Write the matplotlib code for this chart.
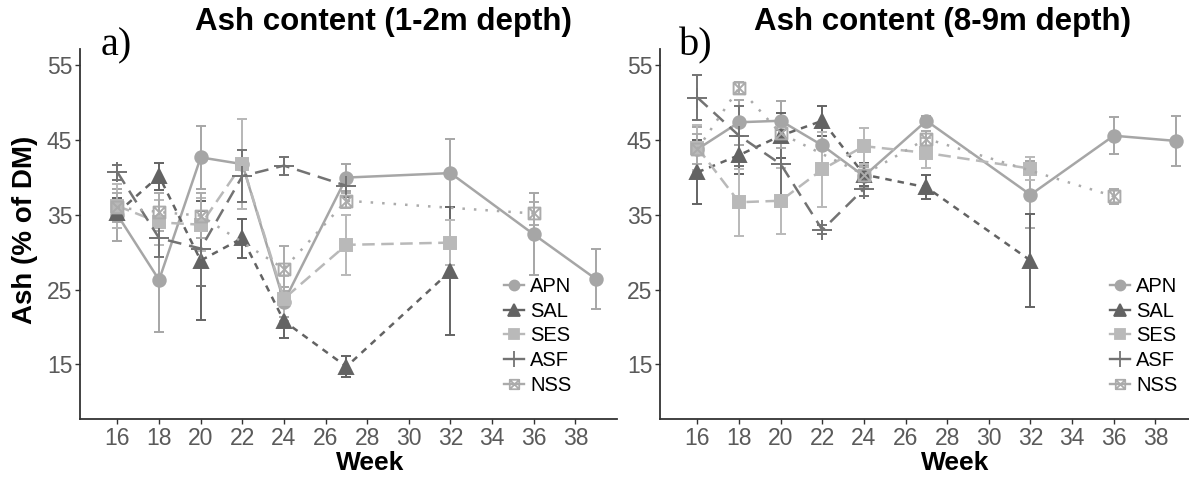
import numpy as np
import matplotlib.pyplot as plt
from matplotlib.path import Path
from matplotlib.lines import Line2D

# ---- data ------------------------------------------------------------------
# a) 1-2 m depth
weeks_a_apn = [16, 18, 20, 22, 24, 27, 32, 36, 39]
apn_a = [35.0, 26.3, 42.7, 41.8, 23.4, 40.0, 40.6, 32.4, 26.4]
apn_a_err = [3.5, 7.0, 4.2, 6.0, 2.0, 1.8, 4.6, 5.5, 4.0]

weeks_a_sal = [16, 18, 20, 22, 24, 27, 32]
sal_a = [35.3, 40.2, 28.9, 31.9, 20.8, 14.7, 27.5]
sal_a_err = [2.0, 1.8, 8.0, 2.6, 2.3, 1.4, 8.5]

weeks_a_ses = [16, 18, 20, 22, 24, 27, 32]
ses_a = [36.2, 34.0, 33.7, 41.8, 23.8, 31.0, 31.3]
ses_a_err = [3.0, 3.0, 3.5, 6.0, 3.0, 4.0, 3.0]

weeks_a_asf = [16, 18, 20, 22, 24, 27]
asf_a = [40.7, 31.9, 30.5, 40.2, 41.6, 38.9]
asf_a_err = [1.0, 2.5, 5.0, 3.5, 1.2, 1.5]

weeks_a_nss = [16, 18, 20, 24, 27, 36]
nss_a = [36.0, 35.4, 34.9, 27.8, 36.9, 35.2]
nss_a_err = [2.0, 2.5, 3.0, 3.0, 1.0, 1.5]

# b) 8-9 m depth
weeks_b_apn = [16, 18, 20, 22, 24, 27, 32, 36, 39]
apn_b = [43.8, 47.4, 47.6, 44.3, 40.2, 47.6, 37.7, 45.6, 44.9]
apn_b_err = [3.0, 3.0, 2.7, 3.0, 1.5, 0.6, 4.5, 2.5, 3.3]

weeks_b_sal = [16, 18, 20, 22, 24, 27, 32]
sal_b = [40.7, 43.0, 45.6, 47.6, 40.4, 38.7, 28.9]
sal_b_err = [4.3, 2.5, 3.0, 2.0, 1.5, 1.6, 6.2]

weeks_b_ses = [16, 18, 20, 22, 24, 27, 32]
ses_b = [44.0, 36.7, 36.9, 41.1, 44.2, 43.3, 41.2]
ses_b_err = [3.0, 4.5, 4.4, 5.0, 2.4, 2.0, 1.5]

weeks_b_asf = [16, 18, 20, 22, 24]
asf_b = [50.7, 45.6, 41.8, 33.0, 38.5]
asf_b_err = [3.0, 4.0, 4.5, 0.6, 1.0]

weeks_b_nss = [16, 18, 20, 24, 27, 36]
nss_b = [43.8, 52.0, 45.9, 40.4, 45.2, 37.5]
nss_b_err = [2.0, 0.8, 2.0, 1.0, 1.0, 1.0]

x_ticks = list(range(16, 40, 2))
y_ticks = [15, 25, 35, 45, 55]
series_names = ['APN', 'SAL', 'SES', 'ASF', 'NSS']

# ---- styles ----------------------------------------------------------------
# open square with a cross inside, for NSS
box_x = Path([(-1, -1), (1, -1), (1, 1), (-1, 1), (-1, -1),
              (-1, -1), (1, 1), (-1, 1), (1, -1)],
             [Path.MOVETO, Path.LINETO, Path.LINETO, Path.LINETO, Path.CLOSEPOLY,
              Path.MOVETO, Path.LINETO, Path.MOVETO, Path.LINETO])

STYLES = {
    'APN': dict(color='#a6a6a6', marker='o', ms=9, ls='-'),
    'SAL': dict(color='#636363', marker='^', ms=10, ls=(0, (2.6, 2.4))),
    'SES': dict(color='#b9b9b9', marker='s', ms=8.5, ls=(0, (5, 2.6))),
    'ASF': dict(color='#737373', marker='+', ms=14, ls=(0, (5.5, 3.2))),
    'NSS': dict(color='#ababab', marker=box_x, ms=8.5, ls=(0, (1.0, 3.6))),
}

plt.rcParams['font.family'] = ['Liberation Sans', 'DejaVu Sans']

W, H = 1189, 478
fig = plt.figure(figsize=(W / 100, H / 100), dpi=100)


def px_axes(x0, y0, x1, y1):
    return fig.add_axes([x0 / W, 1 - y1 / H, (x1 - x0) / W, (y1 - y0) / H])


def draw_series(ax, name, weeks, vals, errs):
    st = STYLES[name]
    ax.errorbar(weeks, vals, yerr=errs, fmt='none', ecolor=st['color'],
                elinewidth=1.4, capsize=3.8, capthick=1.4, zorder=2)
    face = 'none' if name == 'NSS' else st['color']
    ax.plot(weeks, vals, color=st['color'], ls=st['ls'], lw=1.8,
            marker=st['marker'], ms=st['ms'], mfc=face, mec=st['color'],
            mew=1.4, zorder=3)


def style_axes(ax):
    ax.set_xlim(14.2, 40.0)
    ax.set_ylim(7.7, 57.2)
    ax.set_xticks(x_ticks)
    ax.set_yticks(y_ticks)
    for side in ['top', 'right']:
        ax.spines[side].set_visible(False)
    for side in ['left', 'bottom']:
        ax.spines[side].set_color('#333333')
        ax.spines[side].set_linewidth(1.3)
    ax.tick_params(length=3.5, width=1.0, color='#333333',
                   labelsize=16.5, labelcolor='#5a5a5a', pad=2)


def add_legend(ax, x, y):
    handles = []
    for name in series_names:
        st = STYLES[name]
        face = 'none' if name == 'NSS' else st['color']
        handles.append(Line2D([], [], color=st['color'], ls='-', lw=1.7,
                              marker=st['marker'], ms=st['ms'] * 0.8,
                              mfc=face, mec=st['color'], mew=1.3))
    ax.legend(handles, series_names, loc='upper left',
              bbox_to_anchor=(x / W, 1 - y / H), bbox_transform=fig.transFigure,
              frameon=False, fontsize=14.5, handlelength=1.0, handletextpad=0.3,
              labelspacing=0.28, borderpad=0, borderaxespad=0)


panels = [
    (px_axes(80, 49, 617, 419), 'a',
     [(weeks_a_apn, apn_a, apn_a_err), (weeks_a_sal, sal_a, sal_a_err),
      (weeks_a_ses, ses_a, ses_a_err), (weeks_a_asf, asf_a, asf_a_err),
      (weeks_a_nss, nss_a, nss_a_err)]),
    (px_axes(660, 49, 1197, 419), 'b',
     [(weeks_b_apn, apn_b, apn_b_err), (weeks_b_sal, sal_b, sal_b_err),
      (weeks_b_ses, ses_b, ses_b_err), (weeks_b_asf, asf_b, asf_b_err),
      (weeks_b_nss, nss_b, nss_b_err)]),
]

for ax, tag, data in panels:
    for name, (wk, v, e) in zip(series_names, data):
        draw_series(ax, name, wk, v, e)
    style_axes(ax)

ax_a, ax_b = panels[0][0], panels[1][0]
add_legend(ax_a, 504, 277)
add_legend(ax_b, 1110, 277)

# titles, panel letters and axis labels
fig.text(383 / W, 1 - 22 / H, 'Ash content (1-2m depth)', ha='center', va='center',
         fontsize=22.5, fontweight='bold')
fig.text(942 / W, 1 - 22 / H, 'Ash content (8-9m depth)', ha='center', va='center',
         fontsize=22.5, fontweight='bold')
fig.text(101 / W, 1 - 46 / H, 'a)', ha='left', va='center', fontsize=29,
         family='Liberation Serif')
fig.text(679 / W, 1 - 46 / H, 'b)', ha='left', va='center', fontsize=29,
         family='Liberation Serif')
fig.text(25 / W, 1 - 230 / H, 'Ash (% of DM)', ha='center', va='center',
         rotation=90, fontsize=20, fontweight='bold')
fig.text(370 / W, 1 - 463 / H, 'Week', ha='center', va='center',
         fontsize=19, fontweight='bold')
fig.text(955 / W, 1 - 463 / H, 'Week', ha='center', va='center',
         fontsize=19, fontweight='bold')

fig.savefig('out.png', dpi=100)
